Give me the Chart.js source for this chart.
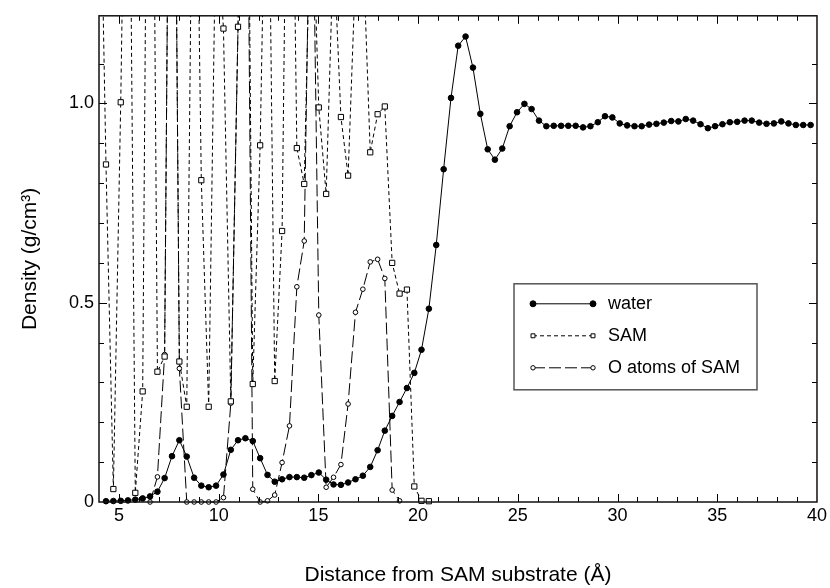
<!DOCTYPE html>
<html>
<head>
<meta charset="utf-8">
<script src="https://cdn.jsdelivr.net/npm/chart.js@4.4.1/dist/chart.umd.min.js"></script>
<style>
  html, body { margin: 0; padding: 0; background: #fff; }
  #wrap { width: 830px; height: 588px; }
</style>
</head>
<body>
<div id="wrap"><canvas id="densityCanvas" width="830" height="588"></canvas></div>
<script>
// grille des distances (Å)
const distance = [
  4.35, 4.72, 5.09, 5.45, 5.82, 6.19, 6.56, 6.93, 7.29, 7.66,
  8.03, 8.40, 8.77, 9.13, 9.50, 9.87, 10.24, 10.61, 10.97, 11.34,
  11.71, 12.08, 12.45, 12.81, 13.18, 13.55, 13.92, 14.29, 14.65, 15.02,
  15.39, 15.76, 16.13, 16.49, 16.86, 17.23, 17.60, 17.97, 18.33, 18.70,
  19.07, 19.44, 19.81, 20.17, 20.54, 20.91, 21.28, 21.65, 22.01, 22.38,
  22.75, 23.12, 23.49, 23.85, 24.22, 24.59, 24.96, 25.33, 25.69, 26.06,
  26.43, 26.80, 27.17, 27.53, 27.90, 28.27, 28.64, 29.01, 29.37, 29.74,
  30.11, 30.48, 30.85, 31.21, 31.58, 31.95, 32.32, 32.69, 33.05, 33.42,
  33.79, 34.16, 34.53, 34.89, 35.26, 35.63, 36.00, 36.37, 36.73, 37.10,
  37.47, 37.84, 38.21, 38.57, 38.94, 39.31, 39.68
];

const water = [
  0.002, 0.0025, 0.003, 0.004, 0.006, 0.009, 0.014, 0.026, 0.06, 0.115,
  0.155, 0.114, 0.061, 0.041, 0.037, 0.041, 0.069, 0.131, 0.155, 0.16,
  0.153, 0.11, 0.068, 0.051, 0.057, 0.0625, 0.0625, 0.061, 0.0675, 0.074,
  0.056, 0.044, 0.043, 0.049, 0.057, 0.066, 0.088, 0.13, 0.179, 0.216,
  0.251, 0.286, 0.324, 0.382, 0.485, 0.645, 0.835, 1.014, 1.145, 1.168,
  1.09, 0.974, 0.885, 0.859, 0.887, 0.943, 0.978, 0.999, 0.986, 0.957,
  0.943, 0.944, 0.944, 0.944, 0.944, 0.94, 0.943, 0.953, 0.968, 0.965,
  0.95, 0.945, 0.943, 0.943, 0.947, 0.949, 0.952, 0.956, 0.955, 0.961,
  0.957, 0.948, 0.938, 0.943, 0.948, 0.953, 0.954, 0.957, 0.957, 0.952,
  0.949, 0.95, 0.955, 0.95, 0.946, 0.946, 0.946
];

// SAM : les pics sortent du cadre (valeurs estimées d'après la pente des traits)
const samX = [3.98].concat(distance.slice(0, 45));
const sam = [
  1.85, 0.847, 0.0325, 1.003, 2.2, 0.023, 0.2775, 2.8, 0.327, 0.365,
  2.7, 0.3525, 0.239, 2.1, 0.8075, 0.239, 1.5, 1.188, 0.2525, 1.1925,
  2.5, 0.296, 0.895, 1.9, 0.3035, 0.68, 2.3, 0.888, 0.798, 1.6,
  0.99, 0.773, 1.4, 0.966, 0.819, 1.33, 1.4, 0.8775, 0.973, 0.9925,
  0.60, 0.523, 0.533, 0.039, 0.003, 0.002
];

const oxyX = distance.slice(6, 41);
const oxygen = [
  0.0, 0.063, 0.37, 2.7, 0.335, 0.0, 0.0, 0.0, 0.0, 0.0,
  0.011, 0.248, 1.19, 2.3, 0.032, 0.0, 0.003, 0.0175, 0.099, 0.191,
  0.54, 0.655, 1.8, 0.469, 0.037, 0.062, 0.094, 0.246, 0.476, 0.534,
  0.6025, 0.609, 0.561, 0.03, 0.003
];

const seriesNames = ["water", "SAM", "O atoms of SAM"];
const xTickLabels = [5, 10, 15, 20, 25, 30, 35, 40];
const yTickValues = [0, 0.5, 1.0];
const yTickText = ["0", "0.5", "1.0"];

const FONT = "'Liberation Sans', Arial, Helvetica, sans-serif";

function toPoints(xs, ys) {
  return xs.map((x, i) => ({ x: x, y: ys[i] }));
}

// Cadre + graduations intérieures
const framePlugin = {
  id: 'frame',
  afterDatasetsDraw(chart) {
    const { ctx, chartArea: a, scales: { x, y } } = chart;
    ctx.save();
    ctx.strokeStyle = '#000';
    ctx.lineWidth = 1;
    ctx.beginPath();
    x.ticks.forEach(t => {
      if (t.value <= x.min || t.value >= x.max) return;
      const px = Math.round(x.getPixelForValue(t.value)) + 0.5;
      const len = t.value % 5 === 0 ? 8 : 5;
      ctx.moveTo(px, a.bottom); ctx.lineTo(px, a.bottom - len);
      ctx.moveTo(px, a.top); ctx.lineTo(px, a.top + len);
    });
    y.ticks.forEach(t => {
      const v = Math.round(t.value * 10) / 10;
      if (Math.abs(v - t.value) > 1e-6 || v <= 0) return;
      const py = Math.round(y.getPixelForValue(t.value)) + 0.5;
      const len = Math.abs(v * 2 - Math.round(v * 2)) < 1e-6 ? 8 : 5;
      ctx.moveTo(a.left, py); ctx.lineTo(a.left + len, py);
      ctx.moveTo(a.right, py); ctx.lineTo(a.right - len, py);
    });
    ctx.stroke();
    ctx.lineWidth = 1.5;
    ctx.strokeStyle = '#111';
    ctx.strokeRect(a.left, a.top, a.width, a.height);
    ctx.restore();
  }
};

// Légende dans le cadre, construite à partir des datasets
const boxLegend = {
  id: 'boxLegend',
  afterDraw(chart) {
    const { ctx, chartArea: a } = chart;
    const bx = a.left + 415, by = a.top + 268, bw = 243, bh = 106;
    ctx.save();
    ctx.fillStyle = '#fff';
    ctx.fillRect(bx, by, bw, bh);
    ctx.strokeStyle = '#555';
    ctx.lineWidth = 1.5;
    ctx.strokeRect(bx, by, bw, bh);

    const legendRadius = [3, 2.8, 2.2];
    chart.data.datasets.forEach((ds, i) => {
      const yy = by + 20 + i * 32;
      const x1 = bx + 19, x2 = bx + 79;
      ctx.strokeStyle = '#000';
      ctx.lineWidth = 1;
      ctx.setLineDash(ds.borderDash || []);
      ctx.beginPath();
      ctx.moveTo(x1, yy); ctx.lineTo(x2, yy);
      ctx.stroke();
      ctx.setLineDash([]);
      ctx.fillStyle = ds.pointBackgroundColor;
      ctx.strokeStyle = '#000';
      [x1, x2].forEach(px => {
        Chart.helpers.drawPoint(ctx, {
          pointStyle: ds.pointStyle, radius: legendRadius[i], rotation: 0, borderWidth: 1
        }, px, yy);
      });
      ctx.fillStyle = '#000';
      ctx.font = '18px ' + FONT;
      ctx.textBaseline = 'middle';
      ctx.textAlign = 'left';
      ctx.fillText(ds.label, bx + 94, yy);
    });
    ctx.restore();
  }
};

const densityCanvas = document.getElementById('densityCanvas');

const densityChart = new Chart(densityCanvas, {
  type: 'scatter',
  data: {
    datasets: [
      {
        label: seriesNames[0],
        data: toPoints(distance, water),
        showLine: true,
        borderColor: '#000',
        borderWidth: 1,
        pointStyle: 'circle',
        pointRadius: 2.8,
        pointBackgroundColor: '#000',
        pointBorderColor: '#000',
        pointBorderWidth: 1,
        clip: { left: 0, top: 0, right: 0, bottom: 5 }
      },
      {
        label: seriesNames[1],
        data: toPoints(samX, sam),
        showLine: true,
        borderColor: '#000',
        borderWidth: 1,
        borderDash: [4, 3],
        pointStyle: 'rect',
        pointRadius: 3.7,
        pointBackgroundColor: '#fff',
        pointBorderColor: '#000',
        pointBorderWidth: 1,
        clip: { left: 0, top: 0, right: 0, bottom: 5 }
      },
      {
        label: seriesNames[2],
        data: toPoints(oxyX, oxygen),
        showLine: true,
        borderColor: '#000',
        borderWidth: 1,
        borderDash: [12, 4],
        pointStyle: 'circle',
        pointRadius: 2.3,
        pointBackgroundColor: '#fff',
        pointBorderColor: '#000',
        pointBorderWidth: 1,
        clip: { left: 0, top: 0, right: 0, bottom: 5 }
      }
    ]
  },
  options: {
    responsive: false,
    animation: false,
    devicePixelRatio: 1,
    layout: { padding: { left: 8, right: 12, top: 14, bottom: 0 } },
    plugins: {
      legend: { display: false },
      tooltip: { enabled: false }
    },
    scales: {
      x: {
        type: 'linear',
        min: 4,
        max: 40,
        afterFit: s => { s.height = 86; },
        grid: { display: false, drawTicks: false },
        border: { display: false },
        ticks: {
          stepSize: 1,
          autoSkip: false,
          maxRotation: 0,
          padding: 3,
          color: '#000',
          font: { size: 18, family: FONT },
          callback: v => xTickLabels.includes(v) ? String(v) : ''
        },
        title: {
          display: true,
          text: 'Distance from SAM substrate (Å)',
          color: '#000',
          font: { size: 21, family: FONT },
          padding: { top: 0, bottom: 0 }
        }
      },
      y: {
        min: 0,
        max: 1.22,
        afterFit: s => { s.width = 91; },
        grid: { display: false, drawTicks: false },
        border: { display: false },
        ticks: {
          stepSize: 0.1,
          autoSkip: false,
          padding: 5,
          color: '#000',
          font: { size: 18, family: FONT },
          callback: v => {
            const k = yTickValues.findIndex(t => Math.abs(t - v) < 1e-6);
            return k >= 0 ? yTickText[k] : '';
          }
        },
        title: {
          display: true,
          text: 'Density (g/cm³)',
          color: '#000',
          font: { size: 21, family: FONT },
          padding: { top: 10, bottom: 0 }
        }
      }
    }
  },
  plugins: [framePlugin, boxLegend]
});
</script>
</body>
</html>
